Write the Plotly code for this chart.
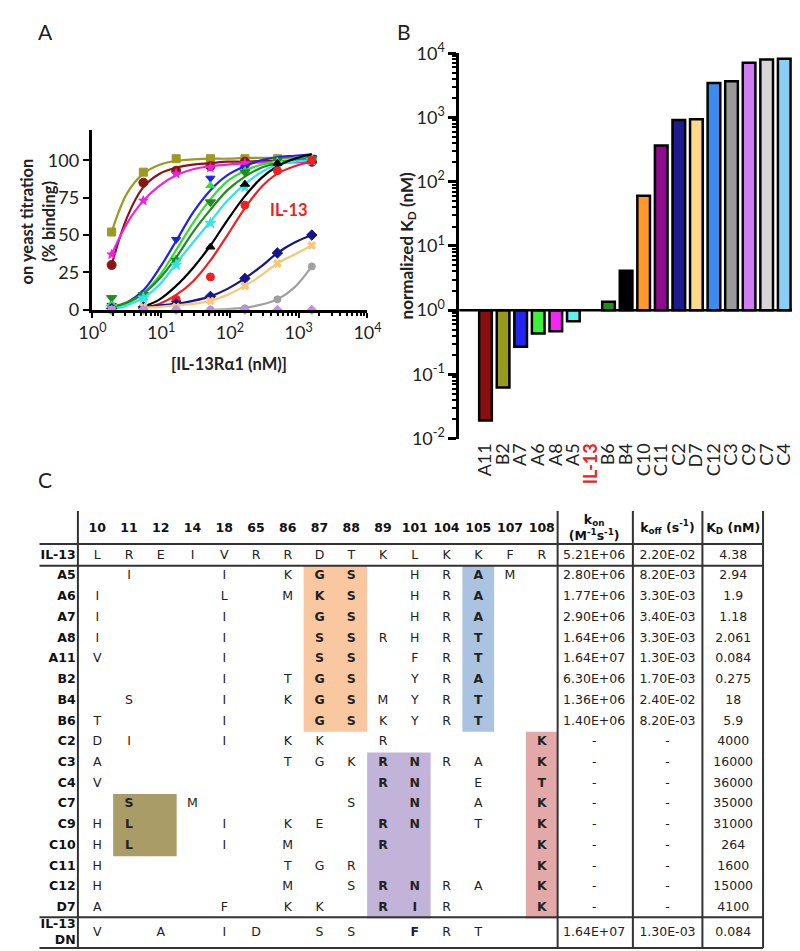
import plotly.graph_objects as go

# ---------------- panel A : titration on yeast ----------------
conc = [1.9, 5.5, 16.5, 52, 165, 490, 1550]
fit_x = [1.9, 3.2, 5.5, 9.5, 16.5, 29, 52, 92, 165, 285, 490, 870, 1550]

b2_pts = [52, 92, 101, 101, 101, 101, 100]
b2_fit = [52, 78, 91, 97, 99.5, 100.5, 101, 101, 101.5, 101.5, 101.5, 101.5, 101.5]
a11_pts = [30, 85, 93, 96, 99, 99, 99]
a11_fit = [30, 62, 82, 91, 95, 97, 98, 99, 99, 99.5, 99.5, 99.5, 99.5]
a8_pts = [37, 73, 91, 95, 98, 99, 99]
a8_fit = [37, 58, 73, 83, 90, 94, 96, 97, 98, 98.5, 98.5, 98.5, 98.5]
a7_pts = [3, 10, 47, 88, 95, 100, 102]
a7_fit = [1, 5, 13, 28, 46, 65, 80, 90, 96, 100, 102, 103, 104]
a6_pts = [4, 8, 34, 83, 93, 99, 101]
a6_fit = [1, 4, 11, 23, 40, 58, 74, 86, 93, 97, 99, 100, 101]
b6_pts = [8, 10, 33, 72, 92, 100, 101]
b6_fit = [2, 5, 11, 21, 35, 52, 67, 80, 89, 95, 98, 100, 101]
a5_pts = [2, 8, 30, 58, 82, 98, 100]
a5_fit = [0, 3, 8, 17, 31, 45, 59, 73, 84, 92, 97, 99, 100]
b4_pts = [1, 2, 7, 42, 84, 98, 100]
b4_fit = [None, None, 2, 7, 16, 28, 43, 60, 76, 88, 96, 101, 104]
il13_pts = [0, 1, 7, 22, 70, 93, 100]
il13_fit = [None, None, 1, 4, 10, 19, 33, 50, 68, 82, 91, 96, 99]
c2_pts = [1, 2, 4, 9, 21, 38, 50]
c2_fit = [None, None, 2, 3, 4, 6, 9, 14, 21, 29, 38, 45, 50]
d7_pts = [0, 2, 2, 6, 16, 31, 43]
d7_fit = [None, None, 1.5, 2, 3, 4, 6, 10, 16, 23, 31, 37, 43]
c3_pts = [0, 0, 0, 0, 1, 7, 29]
c3_fit = [None, None, None, None, None, None, 0, 0.5, 1.5, 3.5, 7, 15, 29]
c9_pts = [0, 0, 0, 0, 0, 0, 0]

# ---------------- panel B : normalized KD ----------------
bar_names = ["A11", "B2", "A7", "A6", "A8", "A5", "IL-13", "B6", "B4", "C10",
             "C11", "C2", "D7", "C12", "C3", "C9", "C7", "C4"]
bar_kd_norm = [0.0192, 0.0628, 0.269, 0.434, 0.47, 0.671, None, 1.347, 4.11, 60.3,
               365, 913, 936, 3425, 3653, 7078, 7991, 8219]
bar_colors = ["#8B0E0E", "#99991F", "#2424F0", "#3CF03C", "#F426F4", "#5CF0F0", "white",
              "#1F8F1F", "#000000", "#FF9A2A", "#8E0A8E", "#1C1C90", "#FFD98A", "#3A8CEE",
              "#999999", "#D07CF2", "#D6D6D6", "#88CFF6"]

# ---------------- panel C : table ----------------
res_cols = ["10", "11", "12", "14", "18", "65", "86", "87", "88", "89",
            "101", "104", "105", "107", "108"]
row_names = ["IL-13", "A5", "A6", "A7", "A8", "A11", "B2", "B4", "B6", "C2", "C3",
             "C4", "C7", "C9", "C10", "C11", "C12", "D7", "IL-13<br>DN"]
row_seqs = ["LREIVRRDTKLKKFR", ".I..I.KGS.HRAM.", "I...L.MKS.HRA..", "I...I..GS.HRA..",
            "I...I..SSRHRT..", "V...I..SS.FRT..", "....I.TGS.YRA..", ".S..I.KGSMYRT..",
            "T...I..GSKYRT..", "DI..I.KK.R....K", "A.....TGKRNRA.K", "V........RN.E.T",
            ".S.M....S.N.A.K", "HL..I.KE.RN.T.K", "HL..I.M..R....K", "H.....TGR.....K",
            "H.....M.SRNRA.K", "A...F.KK.RIR..K", "V.A.ID.SS.FRT.."]
kon = ["5.21E+06", "2.80E+06", "1.77E+06", "2.90E+06", "1.64E+06", "1.64E+07", "6.30E+06",
       "1.36E+06", "1.40E+06", "-", "-", "-", "-", "-", "-", "-", "-", "-", "1.64E+07"]
koff = ["2.20E-02", "8.20E-03", "3.30E-03", "3.40E-03", "3.30E-03", "1.30E-03", "1.70E-03",
        "2.40E-02", "8.20E-03", "-", "-", "-", "-", "-", "-", "-", "-", "-", "1.30E-03"]
kd = ["4.38", "2.94", "1.9", "1.18", "2.061", "0.084", "0.275", "18", "5.9", "4000",
      "16000", "36000", "35000", "31000", "264", "1600", "15000", "4100", "0.084"]

TICKFONT = dict(family="Lato", size=18, color="#222")
TFONT = "DejaVu Sans"


def pow_ticks(e0, e1):
    vals = [10 ** e for e in range(e0, e1 + 1)]
    text = [f"10<sup>{e}</sup>" for e in range(e0, e1 + 1)]
    minor = [m * 10 ** e for e in range(e0, e1) for m in range(2, 10)]
    return vals, text, minor


ax_vals, ax_text, ax_minor = pow_ticks(0, 4)
by_vals, by_text, by_minor = pow_ticks(-2, 4)

fig = go.Figure()

# ----- panel A traces -----
series_a = [
    (b2_pts, b2_fit, "#9B9B1F", "square", 8),
    (a11_pts, a11_fit, "#8B1414", "circle", 9),
    (a8_pts, a8_fit, "#F020E0", "star", 7),
    (a7_pts, a7_fit, "#2020F0", "triangle-down", 8),
    (a6_pts, a6_fit, "#30E030", "triangle-up", 8),
    (b6_pts, b6_fit, "#1E8C1E", "triangle-down", 9),
    (a5_pts, a5_fit, "#30E4EC", "star", 8),
    (b4_pts, b4_fit, "#000000", "triangle-up", 8),
    (il13_pts, il13_fit, "#F02020", "circle", 8),
    (c2_pts, c2_fit, "#151590", "diamond", 8),
    (d7_pts, d7_fit, "#F8C878", "x", 7),
    (c3_pts, c3_fit, "#A0A0A0", "circle", 7),
    (c9_pts, None, "#C88AF0", "diamond", 7),
]
for pts, fit, col, sym, sz in series_a:
    if fit is not None:
        fig.add_trace(go.Scatter(x=fit_x, y=fit, mode="lines", xaxis="x", yaxis="y",
                                 line=dict(color=col, width=2.2, shape="spline", smoothing=1),
                                 hoverinfo="skip", cliponaxis=False))
    fig.add_trace(go.Scatter(x=conc, y=pts, mode="markers", xaxis="x", yaxis="y",
                             marker=dict(color=col, symbol=sym, size=sz,
                                         line=dict(color=col, width=1)),
                             cliponaxis=False))

# ----- panel B traces -----
bx = list(range(len(bar_names)))
fig.add_trace(go.Bar(
    x=bx, y=[(v - 1) if v is not None else None for v in bar_kd_norm], base=1,
    xaxis="x2", yaxis="y2", width=0.72,
    marker=dict(color=bar_colors, line=dict(color="black", width=2.5)),
))
fig.add_trace(go.Scatter(x=[-1.5, 17.5], y=[1, 1], mode="lines", xaxis="x2", yaxis="y2",
                         line=dict(color="black", width=2.5), hoverinfo="skip"))

# ----- panel C table -----
col_x = list(range(len(res_cols)))
kon_x, koff_x, kd_x = 15.65, 17.96, 20.03
row_y = [-1] + list(range(17)) + [17.2]
header_y = -2.3

boxes = [  # (col0, col1, row0, row1, colour)
    (7, 8, 0, 7, "#F9C8A0"),
    (12, 12, 0, 7, "#A9C3E0"),
    (9, 10, 9, 16, "#C2B4D8"),
    (14, 14, 8, 16, "#E3A9A9"),
    (1, 2, 11, 13, "#A99C66"),
]
extra_bold = [(10, 17.2)]

shapes = []
for c0, c1, r0, r1, colr in boxes:
    shapes.append(dict(type="rect", xref="x3", yref="y3", x0=c0 - 0.5, x1=c1 + 0.5,
                       y0=r0 - 0.5, y1=r1 + 0.5, fillcolor=colr, line=dict(width=0),
                       layer="below"))
for yy in [-1.55, -0.5, 16.45, 17.93]:
    shapes.append(dict(type="line", xref="x3", yref="y3", x0=-1.82, x1=20.97, y0=yy, y1=yy,
                       line=dict(color="#333", width=2)))
for xx in [-0.61, 14.5, 16.87, 19.06, 20.97]:
    shapes.append(dict(type="line", xref="x3", yref="y3", x0=xx, x1=xx, y0=-3.15, y1=17.93,
                       line=dict(color="#333", width=2)))


def is_bold(ci, ry):
    for c0, c1, r0, r1, _ in boxes:
        if c0 <= ci <= c1 and r0 <= ry <= r1:
            return True
    return (ci, ry) in extra_bold


tx, ty, tt = [], [], []
for seq, ry in zip(row_seqs, row_y):
    for ci, ch in enumerate(seq):
        if ch == ".":
            continue
        tx.append(col_x[ci])
        ty.append(ry)
        tt.append(f"<b>{ch}</b>" if is_bold(ci, ry) else ch)
for ry, a, b, c in zip(row_y, kon, koff, kd):
    tx += [kon_x, koff_x, kd_x]
    ty += [ry, ry, ry]
    tt += [a, b, c]
fig.add_trace(go.Scatter(x=tx, y=ty, text=tt, mode="text", xaxis="x3", yaxis="y3",
                         textfont=dict(family=TFONT, size=12.5, color="#222"),
                         hoverinfo="skip"))

hdr_x = col_x + [kon_x, koff_x, kd_x]
hdr_t = [f"<b>{c}</b>" for c in res_cols] + [
    "<b>k<sub>on</sub><br>(M<sup>-1</sup>s<sup>-1</sup>)</b>",
    "<b>k<sub>off</sub> (s<sup>-1</sup>)</b>",
    "<b>K<sub>D</sub> (nM)</b>"]
fig.add_trace(go.Scatter(x=hdr_x, y=[header_y] * len(hdr_x), text=hdr_t, mode="text",
                         xaxis="x3", yaxis="y3",
                         textfont=dict(family=TFONT, size=12.5, color="#111"), hoverinfo="skip"))
fig.add_trace(go.Scatter(x=[-0.68] * len(row_names), y=row_y,
                         text=[f"<b>{n}</b>" for n in row_names], mode="text",
                         textposition="middle left", xaxis="x3", yaxis="y3",
                         textfont=dict(family=TFONT, size=12.5, color="#111"), hoverinfo="skip"))


def paper_note(text, px, py, size=15, angle=0, color="#222"):
    return dict(text=text, x=px / 800, y=1 - py / 951, xref="paper", yref="paper",
                xanchor="center", yanchor="middle", showarrow=False, textangle=angle,
                font=dict(family="Lato", size=size, color=color))


annotations = [
    paper_note("A", 24, 11, size=21),
    paper_note("B", 396, 11, size=21),
    paper_note("C", 24, 470, size=21),
    paper_note("<b>on yeast titration<br>(% binding)</b>", 16, 205, size=16.5, angle=-90),
    paper_note("<b>[IL-13R\u03b11 (nM)]</b>", 215, 352, size=16.5),
    paper_note("<b>normalized K<sub>D</sub> (nM)</b>", 400, 230, size=17, angle=-90),
    dict(text="<b>IL-13</b>", x=2.86, y=67, xref="x", yref="y", showarrow=False,
         font=dict(family="Lato", size=16.5, color="#F02020")),
]

ticktext_b = [("<span style='color:#F02020'><b>IL-13</b></span>" if n == "IL-13" else n)
              for n in bar_names]

fig.update_layout(
    width=800, height=951, margin=dict(l=0, r=0, t=0, b=0),
    paper_bgcolor="white", plot_bgcolor="white", showlegend=False,
    xaxis=dict(type="log", range=[0, 4], domain=[73 / 800, 358 / 800], anchor="y",
               tickvals=ax_vals, ticktext=ax_text, showline=True, linecolor="black",
               linewidth=2.5, ticks="outside", ticklen=5, tickwidth=2, tickcolor="black",
               tickfont=TICKFONT, showgrid=False, zeroline=False,
               minor=dict(tickvals=ax_minor, ticks="outside", ticklen=3, tickwidth=1.5,
                          tickcolor="black", showgrid=False)),
    yaxis=dict(range=[0, 120], domain=[1 - 296 / 951, 1 - 112 / 951], anchor="x",
               tickvals=[0, 25, 50, 75, 100], showline=True, linecolor="black",
               linewidth=2.5, ticks="outside", ticklen=7, tickwidth=2, tickcolor="black",
               tickfont=TICKFONT, showgrid=False, zeroline=False),
    xaxis2=dict(range=[-1.5, 17.5], domain=[453 / 800, 799 / 800], anchor="y2",
                tickvals=bx, ticktext=ticktext_b, tickangle=-90, showline=False,
                ticks="", tickfont=TICKFONT, showgrid=False, zeroline=False),
    yaxis2=dict(type="log", range=[-2, 4], domain=[1 - 428 / 951, 1 - 33 / 951],
                anchor="x2", tickvals=by_vals, ticktext=by_text, showline=True,
                linecolor="black", linewidth=2.5, ticks="outside", ticklen=8,
                tickwidth=2.5, tickcolor="black", tickfont=TICKFONT, showgrid=False,
                zeroline=False,
                minor=dict(tickvals=by_minor, ticks="outside", ticklen=4, tickwidth=2,
                           tickcolor="black", showgrid=False)),
    xaxis3=dict(range=[-2.371, 21.945], domain=[0, 1], anchor="y3", visible=False),
    yaxis3=dict(range=[17.976, -3.482], domain=[0, 1 - 495 / 951], anchor="x3",
                visible=False),
    shapes=shapes, annotations=annotations,
)

fig.write_html("out.html")
